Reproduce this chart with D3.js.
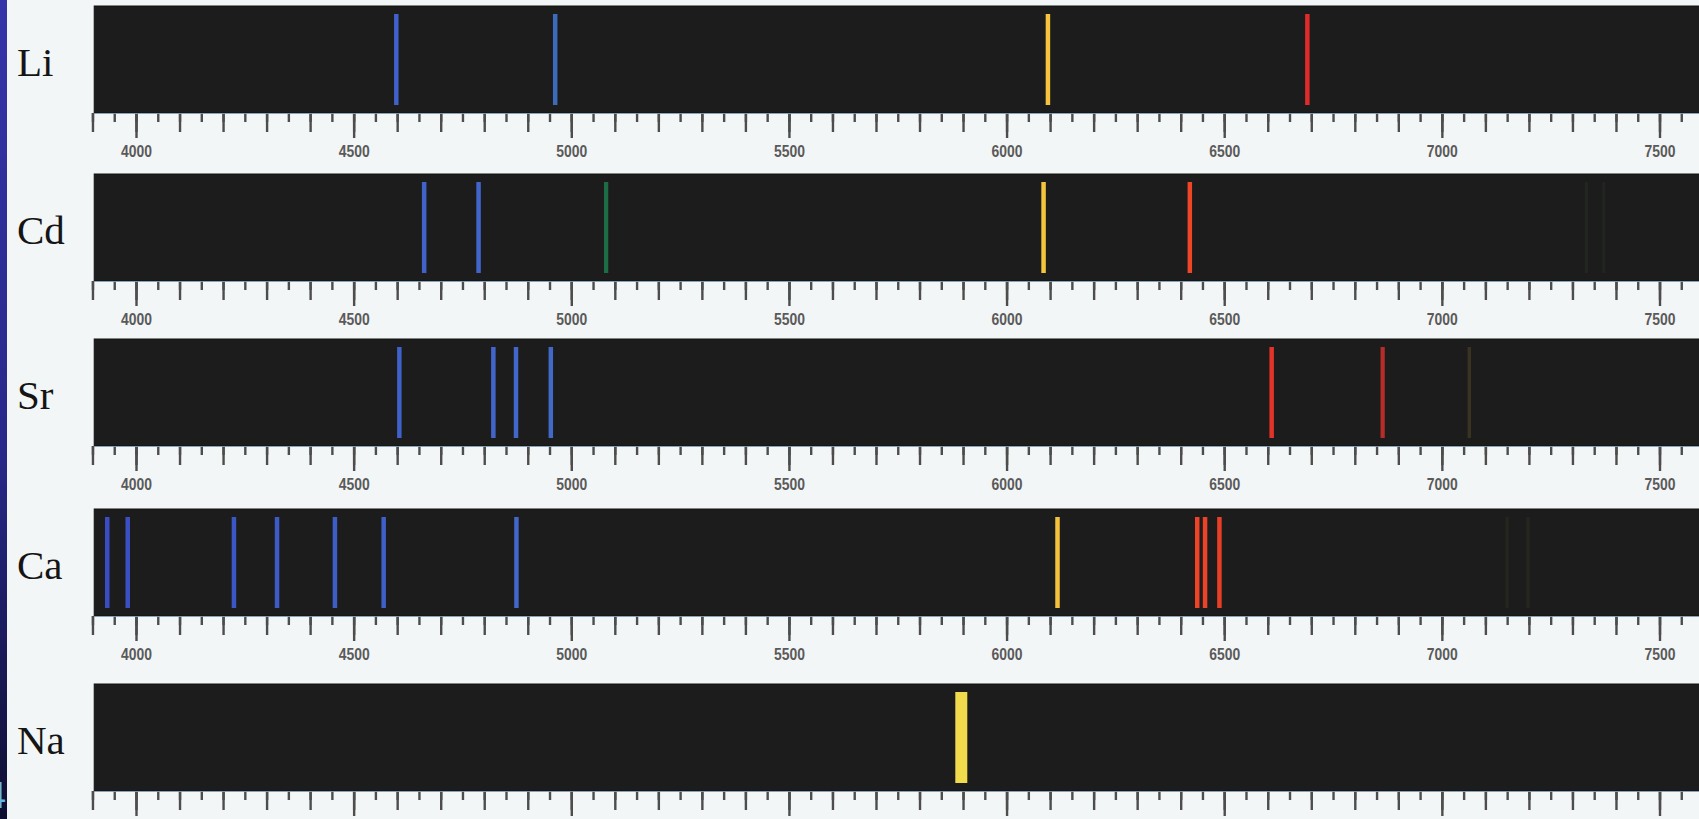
<!DOCTYPE html>
<html>
<head>
<meta charset="utf-8">
<script src="https://cdn.jsdelivr.net/npm/d3@7"></script>
<style>
  html, body { margin: 0; padding: 0; background: #f3f6f7; overflow: hidden; }
  svg { display: block; }
</style>
</head>
<body>
<svg id="chart" width="1699" height="819"></svg>
<script>
// ---------------- DATA ----------------
const elements = ["Li", "Cd", "Sr", "Ca", "Na"];

// emission line wavelengths (Å) and relative brightness for each element
const liLines     = [4598, 4963, 6095, 6691];
const liIntensity = [1, 1, 1, 1];

const cdLines     = [4662, 4787, 5080, 6085, 6421, 7332, 7372];
const cdIntensity = [1, 1, 0.85, 1, 1, 0.12, 0.1];

const srLines     = [4605, 4821, 4873, 4953, 6609, 6864, 7063];
const srIntensity = [1, 1, 1, 1, 1, 0.85, 0.3];

const caLines     = [3934, 3981, 4225, 4324, 4457, 4569, 4874, 6117, 6438, 6456, 6489, 7150, 7198];
const caIntensity = [1, 1, 1, 1, 1, 1, 1, 1, 1, 1, 1, 0.12, 0.12];

const naLines     = [5896];
const naIntensity = [2.6];

// axis ticks (Å)
const tickLabels  = [4000, 4500, 5000, 5500, 6000, 6500, 7000, 7500];
const axisDomain  = [3900, 7600];

// ---------------- LAYOUT / STYLE ----------------
const W = 1699, H = 819;
const panelTops = [6, 174, 339, 509, 684];
const panelH = 107;
const lineInset = 8;
const panelColor = "#1b1c1b";

const svg = d3.select("#chart");

const x = d3.scaleLinear().domain([4000, 7500]).range([136, 1659.5]);

// spectral colour by wavelength (as the lines appear in the photograph)
const spectral = d3.scaleLinear()
  .domain([3900, 4300, 4950, 5050, 5500, 5890, 6120, 6400, 6700, 6950, 7050, 7300])
  .range(["#3a4cc2", "#3d5ac6", "#4269cc", "#1f7a4c", "#1f7a4c", "#f1dc4c", "#f5c03c",
          "#ef4826", "#de2a2a", "#c8322a", "#8a6a30", "#587050"])
  .clamp(true);
const widthScale = d3.scaleLinear().domain([0, 1, 2.6]).range([3, 4.5, 12]).clamp(true);

// background
svg.append("rect").attr("width", W).attr("height", H).attr("fill", "#f3f6f7");

// left slide strip
const defs = svg.append("defs");
const grad = defs.append("linearGradient").attr("id", "strip").attr("x1", 0).attr("y1", 0).attr("x2", 0).attr("y2", 1);
grad.append("stop").attr("offset", "0%").attr("stop-color", "#3434a8");
grad.append("stop").attr("offset", "55%").attr("stop-color", "#28288a");
grad.append("stop").attr("offset", "100%").attr("stop-color", "#0e0e32");
svg.append("rect").attr("x", 0).attr("y", 0).attr("width", 7).attr("height", H).attr("fill", "url(#strip)");
svg.append("text").attr("x", -14).attr("y", 808)
  .attr("font-family", "Liberation Sans, Arial, sans-serif").attr("font-size", 36)
  .attr("fill", "#62b8ea").text("4");

const spectra = [
  { lines: liLines, intensity: liIntensity },
  { lines: cdLines, intensity: cdIntensity },
  { lines: srLines, intensity: srIntensity },
  { lines: caLines, intensity: caIntensity },
  { lines: naLines, intensity: naIntensity }
];

const minorTicks  = d3.range(axisDomain[0], axisDomain[1] + 1, 50);
const mediumTicks = d3.range(axisDomain[0], axisDomain[1] + 1, 100);

elements.forEach((name, i) => {
  const top = panelTops[i];
  const bottom = top + panelH;
  const g = svg.append("g");

  // element label
  g.append("text")
    .attr("x", 17).attr("y", top + 70)
    .attr("font-family", "Liberation Serif, 'Times New Roman', serif")
    .attr("font-size", 41)
    .attr("fill", "#151515")
    .text(name);

  // dark spectrum panel
  g.append("rect")
    .attr("x", x(3904)).attr("y", top)
    .attr("width", x(7592) - x(3904)).attr("height", panelH)
    .attr("fill", panelColor)
    .attr("stroke", "#111311").attr("stroke-width", 1);

  // emission lines
  const sp = spectra[i];
  const data = sp.lines.map((l, k) => ({ l, v: sp.intensity[k] }));
  g.selectAll("line.em").data(data).enter().append("line")
    .attr("class", "em")
    .attr("x1", d => x(d.l)).attr("x2", d => x(d.l))
    .attr("y1", top + lineInset).attr("y2", bottom - lineInset)
    .attr("stroke", d => d3.interpolateRgb(panelColor, spectral(d.l))(Math.min(d.v, 1)))
    .attr("stroke-width", d => widthScale(d.v));

  // axes: short, medium, long ticks
  const axG = g.append("g").attr("transform", `translate(0,${bottom})`);
  const styleTicks = sel => {
    sel.selectAll(".tick line").attr("stroke", "#4d4d4d").attr("stroke-width", 2.4);
    sel.select(".domain").remove();
  };
  axG.append("g").call(d3.axisBottom(x).tickValues(minorTicks).tickSize(9).tickFormat("")).call(styleTicks);
  axG.append("g").call(d3.axisBottom(x).tickValues(mediumTicks).tickSize(19).tickFormat("")).call(styleTicks);
  // the last strip's scale labels fall below the photographed area
  const labelled = i < elements.length - 1;
  const major = axG.append("g")
    .call(d3.axisBottom(x).tickValues(tickLabels).tickSize(25).tickPadding(7)
      .tickFormat(labelled ? d3.format("d") : ""))
    .call(styleTicks);
  major.selectAll(".tick text")
    .attr("font-family", "Liberation Sans, Arial, sans-serif")
    .attr("font-weight", "bold")
    .attr("font-size", 17)
    .attr("fill", "#5a5a5a")
    .attr("transform", "scale(0.82,1)");
  // thin light edge under panel
  axG.append("line").attr("x1", x(3904)).attr("x2", x(7592)).attr("y1", 0.5).attr("y2", 0.5)
    .attr("stroke", "#8fb0cf").attr("stroke-width", 1).attr("opacity", 0.7);
});
</script>
</body>
</html>
